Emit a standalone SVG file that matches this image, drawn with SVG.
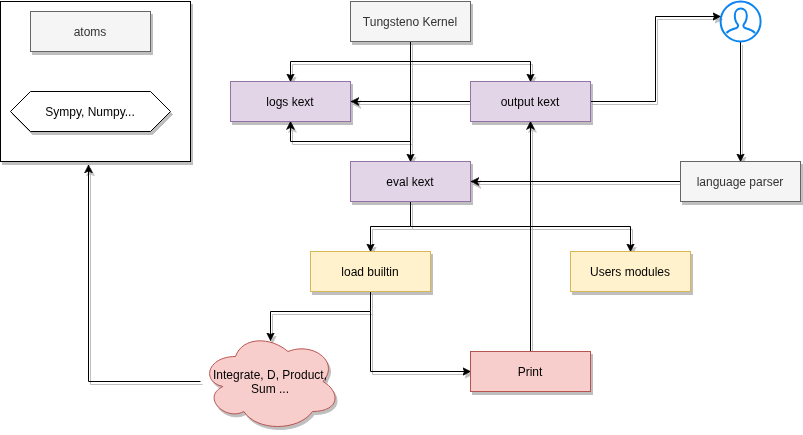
<svg xmlns="http://www.w3.org/2000/svg" width="803" height="435" viewBox="0 0 803 435">
<style>
text{font-family:"Liberation Sans",Arial,Helvetica,sans-serif;font-size:12px;text-anchor:middle;fill:#000}
.shade{filter:url(#shadow)}
.grey rect{fill:#f5f5f5;stroke:#666}
.grey text{fill:#333}
.purple rect{fill:#e1d5e7;stroke:#9673a6}
.yellow rect{fill:#fff2cc;stroke:#d6b656}
.red rect,.red path{fill:#f8cecc;stroke:#b85450}
.white rect,.white path{fill:#fff;stroke:#000}
#connectors path{fill:none;stroke:#000;marker-end:url(#arrow)}
</style>
<defs>
<filter id="shadow" x="-10%" y="-10%" width="125%" height="125%" filterUnits="objectBoundingBox" color-interpolation-filters="sRGB">
<feOffset in="SourceAlpha" dx="2" dy="3" result="o"/>
<feFlood flood-color="#000" flood-opacity="0.25"/>
<feComposite in2="o" operator="in" result="s"/>
<feMerge><feMergeNode in="s"/><feMergeNode in="SourceGraphic"/></feMerge>
</filter>
<filter id="lineshadow" filterUnits="userSpaceOnUse" x="0" y="0" width="803" height="435" color-interpolation-filters="sRGB">
<feOffset in="SourceAlpha" dx="2" dy="3" result="o"/>
<feFlood flood-color="#000" flood-opacity="0.25"/>
<feComposite in2="o" operator="in" result="s"/>
<feMerge><feMergeNode in="s"/><feMergeNode in="SourceGraphic"/></feMerge>
</filter>
<marker id="arrow" markerUnits="userSpaceOnUse" markerWidth="10" markerHeight="10" refX="8" refY="5" orient="auto" viewBox="0 0 10 10">
<path d="M8 5 L0 1 L2 5 L0 9Z" fill="#000" stroke="#000" stroke-width="0.6"/>
</marker>
</defs>
<rect width="803" height="435" fill="#fff"/>
<g id="connectors">
<g filter="url(#lineshadow)">
<path d="M410.5 41.5V161.5"/>
<path d="M410.5 61.5H290.5V81.5"/>
<path d="M410.5 61.5H530.5V81.5"/>
<path d="M410.5 141.5H290.5V121.5"/>
<path d="M470.5 101.5H351"/>
<path d="M590.5 101.5H655.5V16.5H720.5"/>
<path d="M740.5 42V161.5"/>
<path d="M680.5 181.5H471"/>
<path d="M410.5 201.5V226.5H370.5V251.5"/>
<path d="M410.5 226.5H630.5V251.5"/>
<path d="M370.5 291.5V311.5H270.5V340.5"/>
<path d="M370.5 311.5V371.5H470.5"/>
<path d="M530.5 351.5V121.5"/>
<path d="M200.5 381.5H88.5V165"/>
</g>
</g>
<g id="container" class="white shade"><rect x="0.5" y="1.5" width="190" height="160"/></g>
<g id="atoms" class="grey shade"><rect x="30.5" y="11.5" width="120" height="40"/><text x="90" y="36">atoms</text></g>
<g id="sympy" class="white shade"><path d="M30.5 91.5H150.5L170.5 111.5L150.5 131.5H30.5L10.5 111.5Z"/><text x="90" y="116">Sympy, Numpy...</text></g>
<g id="kernel" class="grey shade"><rect x="350.5" y="1.5" width="120" height="40"/><text x="410" y="26">Tungsteno Kernel</text></g>
<g id="logs" class="purple shade"><rect x="230.5" y="81.5" width="120" height="40"/><text x="290" y="106">logs kext</text></g>
<g id="output" class="purple shade"><rect x="470.5" y="81.5" width="120" height="40"/><text x="530" y="106">output kext</text></g>
<g id="eval" class="purple shade"><rect x="350.5" y="161.5" width="120" height="40"/><text x="410" y="186">eval kext</text></g>
<g id="parser" class="grey shade"><rect x="680.5" y="161.5" width="120" height="40"/><text x="740" y="186">language parser</text></g>
<g id="load" class="yellow shade"><rect x="310.5" y="251.5" width="120" height="40"/><text x="370" y="276">load builtin</text></g>
<g id="users" class="yellow shade"><rect x="570.5" y="251.5" width="120" height="40"/><text x="630" y="276">Users modules</text></g>
<g id="print" class="red shade"><rect x="470.5" y="351.5" width="120" height="40"/><text x="530" y="376">Print</text></g>
<g id="cloud" class="red shade"><path d="M235.5 356.5C207.5 356.5 200.5 381.5 222.9 386.5C200.5 397.5 225.7 421.5 243.9 411.5C256.5 431.5 298.5 431.5 312.5 411.5C340.5 411.5 340.5 391.5 323 381.5C340.5 361.5 312.5 341.5 288 351.5C270.5 336.5 242.5 336.5 235.5 356.5Z"/><text x="270" y="379">Integrate, D, Product,</text><text x="270" y="393">Sum ...</text></g>
<g id="user" fill="none" stroke="#0a84f0" stroke-width="2"><circle cx="740.6" cy="21.5" r="20"/><path d="M726.5 33C729 30 733 29 736 28.2C738 27.6 738.5 26 737.8 24.5C736 22.5 734.8 19.5 734.8 15.5C734.8 11 737.5 8.5 740.8 8.5C744 8.5 746.8 11 746.8 15.5C746.8 19.5 745.5 22.5 743.7 24.5C743 26 743.5 27.6 745.5 28.2C748.5 29 752.5 30 755 33"/></g>
</svg>
